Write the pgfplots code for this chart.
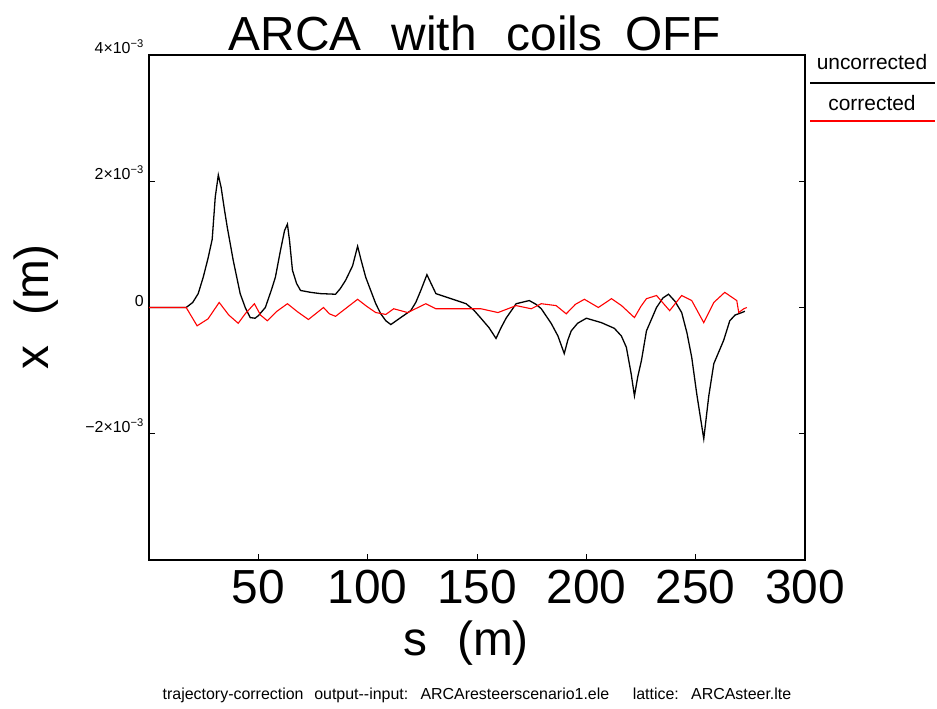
\documentclass[border=0pt]{standalone}
\usepackage{fontspec}
\setmainfont{Liberation Sans}
\usepackage{pgfplots}
\pgfplotsset{compat=1.18}

% x in units of 1e-3 m
\pgfplotstableread{
s      x
0      0
17     0
20     0.08
22.5   0.22
24.8   0.48
27     0.78
28.9   1.08
30.3   1.75
31.7   2.10
33     1.90
34.5   1.55
35.8   1.27
38.5   0.75
41.7   0.22
44     0
46.3  -0.16
48.5  -0.17
50    -0.13
53.2   0
56     0.28
57.8   0.48
60.1   0.90
62     1.22
63.3   1.32
64.3   1.05
65.6   0.59
67.5   0.38
69.3   0.27
73.9   0.24
78.4   0.22
85.3   0.21
87.5   0.30
89.9   0.43
93.1   0.66
95.4   0.97
97     0.75
99.1   0.48
101.5  0.26
103.7  0.06
106   -0.10
108.3 -0.21
110.6 -0.27
115.1 -0.16
119.7 -0.05
122    0.08
124.3  0.27
127.1  0.52
129    0.38
131.2  0.22
138.1  0.14
145    0.06
148.5 -0.04
151.8 -0.17
155.5 -0.32
158.7 -0.49
161   -0.32
163.3 -0.17
167.9  0.06
173.9  0.11
177    0.05
179.4 -0.02
183.9 -0.25
187   -0.45
189.9 -0.73
191.5 -0.52
193.1 -0.37
196   -0.25
200   -0.17
206.9 -0.24
212.8 -0.33
216    -0.45
218.3 -0.63
220.5 -1.05
222   -1.40
223.5 -1.10
225.2 -0.84
227.5 -0.37
232.1  0
235    0.15
237.6  0.21
240.5  0.10
243.6 -0.08
246   -0.40
248.2 -0.79
250.5 -1.37
253.7 -2.08
256   -1.40
258.3 -0.89
262.8 -0.52
265.6 -0.21
268    -0.12
271.1 -0.08
272.5 -0.06
}\uncorr

\pgfplotstableread{
s      x
0      0
17     0
22    -0.29
27    -0.18
32.1   0.08
36.5  -0.12
40.8  -0.25
44    -0.10
48.2   0.06
51    -0.12
54.1  -0.21
58.5  -0.06
63.3   0.06
68    -0.07
72.9  -0.19
79.8   0
82.5  -0.10
85.3  -0.14
95.4   0.13
99.5   0.02
103.7 -0.08
108.3 -0.11
111.9 -0.02
118.3 -0.08
126.6  0.06
131.2 -0.02
142.7 -0.02
151.8 -0.02
159.6 -0.08
167.9  0.03
174.8 -0.02
179.4  0.06
186.2  0.03
190.8 -0.10
195    0.05
199.1  0.13
205.5  0
211.5  0.14
216.1  0.03
222   -0.16
225    0.02
227.5  0.14
232.1  0.19
238.1 -0.05
243.6  0.19
248.2  0.11
253.7 -0.24
258.3  0.08
263.3  0.24
268.8  0.11
269.7 -0.08
272   -0.02
273.4  0
}\corr

\begin{document}
\begin{tikzpicture}
\useasboundingbox (0,0) rectangle (937bp,709bp);
\begin{axis}[
  at={(149bp,149bp)}, anchor=south west,
  width=656bp, height=505bp, scale only axis,
  xmin=0, xmax=300, ymin=-4, ymax=4,
  xtick={50,100,...,300},
  ytick={-2,0,2,4},
  yticklabels={−2×10\textsuperscript{−3},0,2×10\textsuperscript{−3},4×10\textsuperscript{−3}},
  xtick pos=lower, ytick pos=both,
  tick align=inside, major tick length=6bp,
  tick style={black, line width=1bp},
  axis line style={line width=1.3bp},
  /pgf/number format/assume math mode=true,
  x tick label style={font=\fontsize{48}{48}\selectfont, inner sep=1bp, yshift=-9bp},
  y tick label style={font=\fontsize{16}{16}\selectfont, anchor=south east, inner sep=1bp, xshift=-4bp},
]
\addplot[color=black, line width=1.3bp] table[x=s, y=x] {\uncorr};
\addplot[color=red, line width=1.1bp] table[x=s, y=x] {\corr};
\end{axis}
% titles and labels
\node[font=\fontsize{48}{48}\selectfont] at (475bp,676bp) {ARCA\hspace{0.35em} with\hspace{0.35em} coils\hspace{0.2em} OFF};
\node[font=\fontsize{48}{48}\selectfont] at (466bp,66bp) {s\hspace{0.35em} (m)};
\node[font=\fontsize{48}{48}\selectfont, rotate=90] at (36bp,402bp) {x\hspace{0.35em} (m)};
\node[font=\fontsize{16}{16}\selectfont] at (477bp,14bp) {trajectory-correction\hspace{0.4em} output-{}-input:\hspace{0.4em} ARCAresteerscenario1.ele\hspace{1.2em} lattice:\hspace{0.4em} ARCAsteer.lte};
% legend
\node[font=\fontsize{21}{21}\selectfont] at (872bp,647bp) {uncorrected};
\draw[black, line width=1.3bp] (810bp,626bp) -- (935bp,626bp);
\node[font=\fontsize{21}{21}\selectfont] at (872bp,606bp) {corrected};
\draw[red, line width=1.2bp] (810bp,588bp) -- (935bp,588bp);
\end{tikzpicture}
\end{document}
